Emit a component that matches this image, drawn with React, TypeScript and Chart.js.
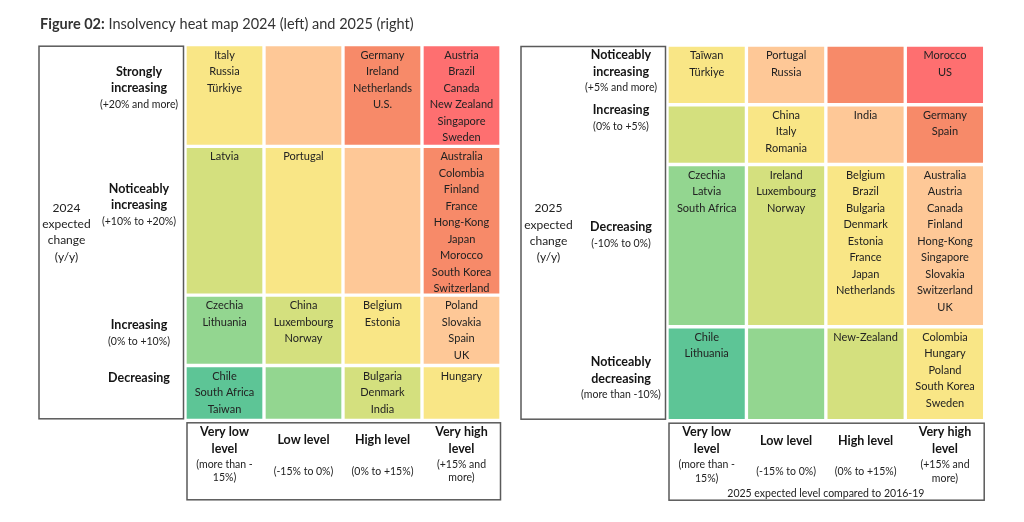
import React, { useEffect, useRef } from 'react';
import { Chart, registerables } from 'chart.js';

Chart.register(...registerables);

const FONT = 'Lato, "Open Sans", sans-serif';

// ---------- Data ----------
const LEVELS = ['Very low level', 'Low level', 'High level', 'Very high level'];
const LEVEL_HEAD = [['Very low', 'level'], ['Low level'], ['High level'], ['Very high', 'level']];
const LEVEL_RANGE = [['(more than -', '15%)'], ['(-15% to 0%)'], ['(0% to +15%)'], ['(+15% and', 'more)']];

const CHANGE_2024 = ['Strongly increasing', 'Noticeably increasing', 'Increasing', 'Decreasing'];
const CHANGE_2024_HEAD = [['Strongly', 'increasing'], ['Noticeably', 'increasing'], ['Increasing'], ['Decreasing']];
const CHANGE_2024_RANGE = ['(+20% and more)', '(+10% to +20%)', '(0% to +10%)', ''];

const CHANGE_2025 = ['Noticeably increasing', 'Increasing', 'Decreasing', 'Noticeably decreasing'];
const CHANGE_2025_HEAD = [['Noticeably', 'increasing'], ['Increasing'], ['Decreasing'], ['Noticeably', 'decreasing']];
const CHANGE_2025_RANGE = ['(+5% and more)', '(0% to +5%)', '(-10% to 0%)', '(more than -10%)'];

const COUNTRIES_2024: string[][][] = [
  [['Italy', 'Russia', 'Türkiye'], [], ['Germany', 'Ireland', 'Netherlands', 'U.S.'], ['Austria', 'Brazil', 'Canada', 'New Zealand', 'Singapore', 'Sweden']],
  [['Latvia'], ['Portugal'], [], ['Australia', 'Colombia', 'Finland', 'France', 'Hong-Kong', 'Japan', 'Morocco', 'South Korea', 'Switzerland']],
  [['Czechia', 'Lithuania'], ['China', 'Luxembourg', 'Norway'], ['Belgium', 'Estonia'], ['Poland', 'Slovakia', 'Spain', 'UK']],
  [['Chile', 'South Africa', 'Taiwan'], [], ['Bulgaria', 'Denmark', 'India'], ['Hungary']],
];

const COUNTRIES_2025: string[][][] = [
  [['Taïwan', 'Türkiye'], ['Portugal', 'Russia'], [], ['Morocco', 'US']],
  [[], ['China', 'Italy', 'Romania'], ['India'], ['Germany', 'Spain']],
  [['Czechia', 'Latvia', 'South Africa'], ['Ireland', 'Luxembourg', 'Norway'], ['Belgium', 'Brazil', 'Bulgaria', 'Denmark', 'Estonia', 'France', 'Japan', 'Netherlands'], ['Australia', 'Austria', 'Canada', 'Finland', 'Hong-Kong', 'Singapore', 'Slovakia', 'Switzerland', 'UK']],
  [['Chile', 'Lithuania'], [], ['New-Zealand'], ['Colombia', 'Hungary', 'Poland', 'South Korea', 'Sweden']],
];

// risk index per cell (0 = lowest … 6 = highest)
const HEAT_2024 = [[3, 4, 5, 6], [2, 3, 4, 5], [1, 2, 3, 4], [0, 1, 2, 3]];
const HEAT_2025 = [[3, 4, 5, 6], [2, 3, 4, 5], [1, 2, 3, 4], [0, 1, 2, 3]];

const AXIS_2024 = ['2024', 'expected', 'change', '(y/y)'];
const AXIS_2025 = ['2025', 'expected', 'change', '(y/y)'];
const FOOTER_2025 = '2025 expected level compared to 2016-19';
const TITLE_BOLD = 'Figure 02:';
const TITLE_REST = ' Insolvency heat map 2024 (left) and 2025 (right)';

// ---------- Styles ----------
const PALETTE = ['#5DC596', '#93D690', '#D4E07E', '#F9E686', '#FEC897', '#F78A69', '#FE6F70'];
const TEXT = '#222222';

type Panel = {
  rows: string[];
  rowHead: string[][];
  rowRange: string[];
  countries: string[][][];
  heat: number[][];
  axisTitle: string[];
  labelShift: number[];
  footer?: string;
  title?: boolean;
  padding: { left: number; right: number; top: number; bottom: number };
};

function makeChart(canvas: HTMLCanvasElement, panel: Panel) {
  const weights = panel.countries.map((row, i) => {
    const maxNames = Math.max(...row.map((c) => c.length));
    const labelLines = panel.rowHead[i].length + (panel.rowRange[i] ? 1 : 0);
    return Math.max(maxNames, labelLines) + 0.5;
  });
  const starts: number[] = [];
  let acc = 0;
  weights.forEach((w) => {
    starts.push(acc);
    acc += w;
  });
  const total = acc;

  const plugin = {
    id: 'heatText',
    afterDatasetsDraw(chart: any) {
      const ctx: CanvasRenderingContext2D = chart.ctx;
      const area = chart.chartArea;
      const xs = chart.scales.x;
      const ys = chart.scales.y;
      ctx.save();
      ctx.textAlign = 'center';
      ctx.textBaseline = 'middle';

      // title
      if (panel.title) {
        ctx.textAlign = 'left';
        ctx.fillStyle = '#333';
        ctx.font = `bold 14.5px ${FONT}`;
        ctx.fillText(TITLE_BOLD, 40, 24);
        const w = ctx.measureText(TITLE_BOLD).width;
        ctx.font = `14.5px ${FONT}`;
        ctx.fillText(TITLE_REST, 40 + w, 24);
        ctx.textAlign = 'center';
      }

      // country names in cells
      chart.data.datasets.forEach((_ds: any, i: number) => {
        const meta = chart.getDatasetMeta(i);
        meta.data.forEach((el: any, j: number) => {
          const { x, y, base } = el.getProps(['x', 'y', 'base'], true);
          const top = Math.min(y, base);
          ctx.font = `11px ${FONT}`;
          ctx.fillStyle = TEXT;
          panel.countries[i][j].forEach((n, k) => ctx.fillText(n, x, top + 10.5 + k * 16.5));
        });
      });

      // row label box
      const boxL = area.left - 146;
      const boxR = area.left - 1.5;
      const boxT = area.top + 1.5;
      const boxB = area.bottom - 1.5;
      ctx.strokeStyle = '#5a5a5a';
      ctx.lineWidth = 1.5;
      ctx.strokeRect(boxL, boxT, boxR - boxL, boxB - boxT);

      // axis title
      ctx.font = `12px ${FONT}`;
      ctx.fillStyle = TEXT;
      const midY = (boxT + boxB) / 2;
      const na = panel.axisTitle.length;
      panel.axisTitle.forEach((t, k) => ctx.fillText(t, boxL + 27.5, midY + (k - (na - 1) / 2) * 16.2));

      // row labels
      panel.rows.forEach((_r, i) => {
        const p1 = ys.getPixelForValue(starts[i]);
        const p2 = ys.getPixelForValue(starts[i] + weights[i]);
        const c = (p1 + p2) / 2 + panel.labelShift[i] * 16.4;
        const lines: { t: string; bold: boolean }[] = panel.rowHead[i].map((t) => ({ t, bold: true }));
        if (panel.rowRange[i]) lines.push({ t: panel.rowRange[i], bold: false });
        lines.forEach((ln, k) => {
          ctx.font = ln.bold ? `bold 12.5px ${FONT}` : `10.5px ${FONT}`;
          ctx.fillStyle = ln.bold ? '#141414' : TEXT;
          ctx.fillText(ln.t, boxL + 100, c + (k - (lines.length - 1) / 2) * 16.4);
        });
      });

      // column header box
      const hT = area.bottom + 2.5;
      const hH = 77;
      ctx.strokeRect(area.left + 2, hT, area.right - area.left - 2.5, hH);
      LEVELS.forEach((_l, j) => {
        const cx = xs.getPixelForValue(j);
        const head = LEVEL_HEAD[j];
        ctx.font = `bold 12.5px ${FONT}`;
        ctx.fillStyle = '#141414';
        head.forEach((t, k) => ctx.fillText(t, cx, hT + 17.5 + (k - (head.length - 1) / 2) * 16.6));
        const sub = LEVEL_RANGE[j];
        ctx.font = `10.5px ${FONT}`;
        ctx.fillStyle = TEXT;
        sub.forEach((t, k) => ctx.fillText(t, cx, hT + 48.5 + (k - (sub.length - 1) / 2) * 13.5));
      });
      if (panel.footer) {
        ctx.font = `10.5px ${FONT}`;
        ctx.fillStyle = TEXT;
        ctx.fillText(panel.footer, (area.left + area.right) / 2, hT + 70);
      }
      ctx.restore();
    },
  };

  const datasets = panel.rows.map((r, i) => ({
    label: r,
    data: LEVELS.map(() => [starts[i], starts[i] + weights[i]]),
    backgroundColor: panel.heat[i].map((h) => PALETTE[h]),
    borderColor: '#ffffff',
    borderWidth: 2,
    borderSkipped: false,
    grouped: false,
    barPercentage: 1,
    categoryPercentage: 1,
  }));

  return new Chart(canvas, {
    type: 'bar',
    data: { labels: LEVELS, datasets: datasets as any },
    options: {
      responsive: false,
      animation: false,
      devicePixelRatio: 1,
      layout: { padding: panel.padding },
      scales: {
        x: { type: 'category', display: false },
        y: { type: 'linear', min: 0, max: total, reverse: true, display: false },
      },
      plugins: { legend: { display: false }, tooltip: { enabled: false }, title: { display: false } },
    },
    plugins: [plugin],
  });
}

const PANEL_2024: Panel = {
  rows: CHANGE_2024,
  rowHead: CHANGE_2024_HEAD,
  rowRange: CHANGE_2024_RANGE,
  countries: COUNTRIES_2024,
  heat: HEAT_2024,
  axisTitle: AXIS_2024,
  labelShift: [-0.45, -0.95, 0.2, -0.9],
  title: true,
  padding: { left: 185, right: 11, top: 44.7, bottom: 101.7 },
};

const PANEL_2025: Panel = {
  rows: CHANGE_2025,
  rowHead: CHANGE_2025_HEAD,
  rowRange: CHANGE_2025_RANGE,
  countries: COUNTRIES_2025,
  heat: HEAT_2025,
  axisTitle: AXIS_2025,
  labelShift: [-0.2, -1, -0.65, 0.3],
  footer: FOOTER_2025,
  padding: { left: 155, right: 39.3, top: 45, bottom: 101.3 },
};

export default function App() {
  const leftRef = useRef<HTMLCanvasElement>(null);
  const rightRef = useRef<HTMLCanvasElement>(null);

  useEffect(() => {
    const charts: Chart[] = [];
    if (leftRef.current) charts.push(makeChart(leftRef.current, PANEL_2024));
    if (rightRef.current) charts.push(makeChart(rightRef.current, PANEL_2025));
    return () => charts.forEach((c) => c.destroy());
  }, []);

  return (
    <div style={{ position: 'fixed', left: 0, top: 0, width: 1024, height: 522, background: '#fff' }}>
      <canvas ref={leftRef} width={512} height={522} style={{ position: 'absolute', left: 0, top: 0 }} />
      <canvas ref={rightRef} width={512} height={522} style={{ position: 'absolute', left: 512, top: 0 }} />
    </div>
  );
}
